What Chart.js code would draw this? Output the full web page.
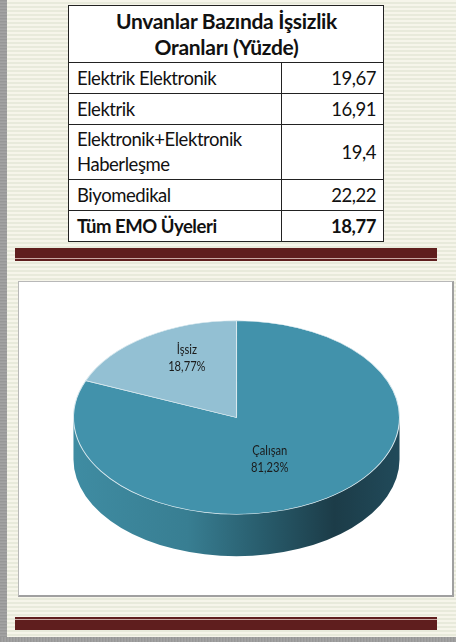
<!DOCTYPE html>
<html>
<head>
<meta charset="utf-8">
<script src="https://cdn.jsdelivr.net/npm/chart.js@4"></script>
<style>
  html, body { margin: 0; padding: 0; }
  body {
    width: 456px; height: 642px; position: relative; overflow: hidden;
    background: repeating-linear-gradient(to bottom, #f6f5ea 0px, #f6f5ea 2px, #e8eadb 2px, #e8eadb 4px);
    font-family: Lato, "Open Sans", sans-serif;
  }
  .edgeLeft {
    position: absolute; left: 0; top: 0; width: 7px; height: 642px;
    background: repeating-linear-gradient(to bottom, #a2a2a2 0px, #8c8c8c 1px, #b0b0b0 2px, #969696 3px);
  }
  .edgeBottom {
    position: absolute; left: 0; top: 637px; width: 456px; height: 5px;
    background: repeating-linear-gradient(to right, #a2a2a2 0px, #8c8c8c 1px, #b0b0b0 2px, #969696 3px);
  }
  table {
    position: absolute; left: 68px; top: 5px; width: 316px;
    border-collapse: collapse; background: #fff; color: #111;
    font-size: 18.5px; letter-spacing: -0.45px;
  }
  td { border: 1.5px solid #222; padding: 0 7px 0 8px; line-height: 25px; }
  td.num { text-align: right; width: 86px; }
  .head td { text-align: center; font-weight: bold; height: 56px; line-height: 26px; font-size: 21px; letter-spacing: -0.3px; }
  .bold td { font-weight: bold; }
  .bar { position: absolute; left: 15px; width: 422px; }
  .bar .thick { height: 10px; background: #5f1e1e; }
  .bar .gap { height: 1px; background: #c9a9a4; }
  .bar .thin { height: 2px; background: #5f1e1e; }
  #box {
    position: absolute; left: 18px; top: 281px; width: 433px; height: 313px;
    background: #fff; border: 1px solid #b8b8b8;
    border-right: 2px solid #a0a0a0; border-bottom: 2px solid #a0a0a0;
  }
</style>
</head>
<body>
<div class="edgeLeft"></div>
<div class="edgeBottom"></div>

<table id="rates"></table>

<div class="bar" style="top:248px"><div class="thick"></div><div class="gap"></div><div class="thin"></div></div>

<div id="box"><canvas id="pieChart" width="433" height="313"></canvas></div>

<div class="bar" style="top:617px"><div class="thin"></div><div class="gap"></div><div class="thick"></div></div>

<script>
// table data
var tableTitle = ["Unvanlar Bazında İşsizlik", "Oranları (Yüzde)"];
var rowNames = ["Elektrik Elektronik", "Elektrik", "Elektronik+Elektronik Haberleşme", "Biyomedikal", "Tüm EMO Üyeleri"];
var rowValues = ["19,67", "16,91", "19,4", "22,22", "18,77"];

// pie data
var pieLabels = ["Çalışan", "İşsiz"];
var pieValues = [81.23, 18.77];
var pieColors = ["#4292ab", "#93c0d3"];

var rates = document.getElementById("rates");
var html = '<tr class="head"><td colspan="2">' + tableTitle.join("<br>") + '</td></tr>';
for (var i = 0; i < rowNames.length; i++) {
    var cls = i == rowNames.length - 1 ? ' class="bold"' : '';
    var h = rowNames[i].length > 25 ? 'height:55px' : 'height:31px';
    var name = rowNames[i].replace("Elektronik Haberleşme", "Elektronik<br>Haberleşme");
    html += '<tr' + cls + ' style="' + h + '"><td>' + name + '</td><td class="num">' + rowValues[i] + '</td></tr>';
}
rates.innerHTML = html;

// fake 3d: squash the pie into an ellipse and draw a side band under it
var tiltX = 1.045;
var tiltY = 0.62;
var depth = 42;
// label nudges (px), same order as pieLabels
var labelShift = [[-12, 1], [12, -5]];

function geom(chart) {
    var arc = chart.getDatasetMeta(0).data[0];
    var r = arc.outerRadius;
    return { cx: arc.x, cy: arc.y, r: r, ex: arc.x + 1, ey: arc.y - depth / 2, rx: r * tiltX, ry: r * tiltY };
}

var pie3d = {
    id: 'pie3d',
    beforeDatasetsDraw: function (chart) {
        var ctx = chart.ctx;
        var g = geom(chart);
        var grad = ctx.createLinearGradient(g.ex - g.rx, 0, g.ex + g.rx, 0);
        grad.addColorStop(0, '#3f8ca2');
        grad.addColorStop(0.35, '#387e92');
        grad.addColorStop(0.58, '#285c6c');
        grad.addColorStop(0.8, '#1c3c48');
        grad.addColorStop(1, '#214a5a');
        ctx.save();
        ctx.beginPath();
        ctx.moveTo(g.ex - g.rx, g.ey);
        ctx.lineTo(g.ex - g.rx, g.ey + depth);
        ctx.ellipse(g.ex, g.ey + depth, g.rx, g.ry, 0, Math.PI, 0, true);
        ctx.lineTo(g.ex + g.rx, g.ey);
        ctx.ellipse(g.ex, g.ey, g.rx, g.ry, 0, 0, Math.PI, false);
        ctx.closePath();
        ctx.fillStyle = grad;
        ctx.fill();
        ctx.restore();

        ctx.save();
        ctx.translate(g.ex, g.ey);
        ctx.scale(tiltX, tiltY);
        ctx.translate(-g.cx, -g.cy);
    },
    afterDatasetsDraw: function (chart) {
        chart.ctx.restore();
    },
    afterDraw: function (chart) {
        var ctx = chart.ctx;
        var g = geom(chart);
        var meta = chart.getDatasetMeta(0);
        var total = pieValues.reduce(function (a, b) { return a + b; }, 0);
        meta.data.forEach(function (arc, i) {
            var mid = (arc.startAngle + arc.endAngle) / 2;
            var f = i == 0 ? 0.5 : 0.68;
            var x = g.ex + Math.cos(mid) * g.rx * f + labelShift[i][0];
            var y = g.ey + Math.sin(mid) * g.ry * f + labelShift[i][1];
            var pct = (pieValues[i] / total * 100).toFixed(2).replace('.', ',') + '%';
            ctx.save();
            ctx.translate(x, y);
            ctx.scale(0.86, 1);
            ctx.fillStyle = '#1b1b1b';
            ctx.font = '13px Lato, sans-serif';
            ctx.textAlign = 'center';
            ctx.textBaseline = 'middle';
            ctx.fillText(pieLabels[i], 0, -8);
            ctx.fillText(pct, 0, 9);
            ctx.restore();
        });
    }
};

var pieChart = document.getElementById('pieChart');

new Chart(pieChart, {
    type: 'pie',
    data: {
        labels: pieLabels,
        datasets: [{
            data: pieValues,
            backgroundColor: pieColors,
            borderColor: '#d8e8ee',
            borderWidth: 1
        }]
    },
    options: {
        responsive: false,
        animation: false,
        layout: { padding: 0 },
        plugins: {
            legend: { display: false },
            tooltip: { enabled: false }
        }
    },
    plugins: [pie3d]
});
</script>
</body>
</html>
